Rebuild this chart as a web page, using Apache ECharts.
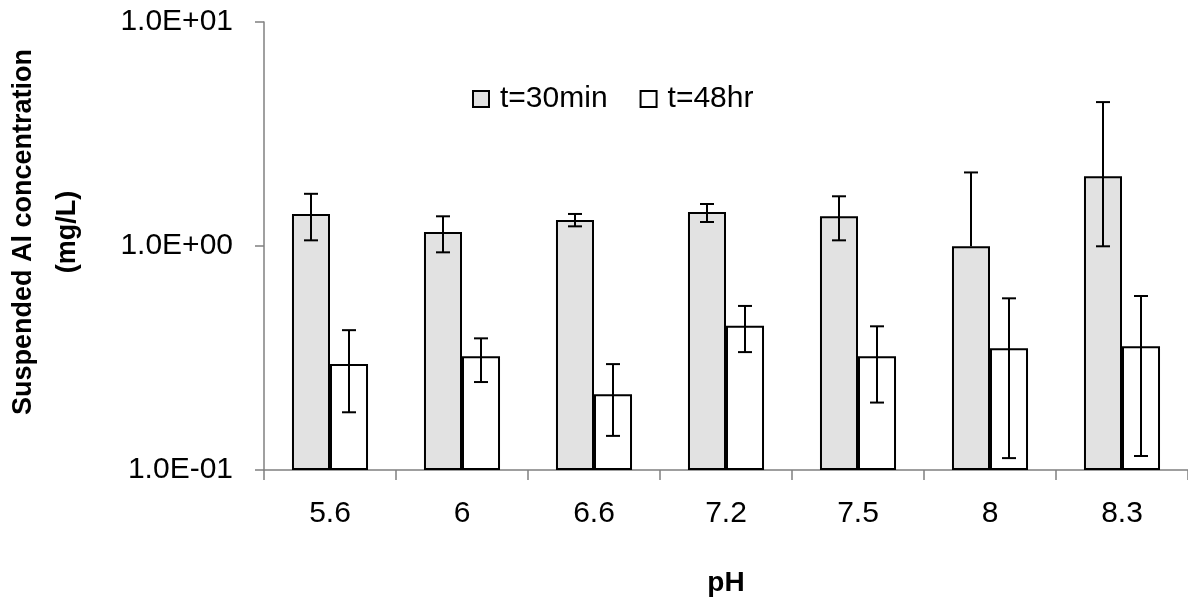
<!DOCTYPE html>
<html>
<head>
<meta charset="utf-8">
<script src="https://cdn.jsdelivr.net/npm/echarts@6/dist/echarts.min.js"></script>
<style>html,body{margin:0;padding:0;background:#fff;}#c{width:1188px;height:607px;}</style>
</head>
<body>
<div id="c"></div>
<script>
const categories = ['5.6', '6', '6.6', '7.2', '7.5', '8', '8.3'];
const yTickLabels = {0.1: '1.0E-01', 1: '1.0E+00', 10: '1.0E+01'};
const seriesNames = ['t=30min', 't=48hr'];
const mean30 = [1.39, 1.155, 1.306, 1.419, 1.357, 0.997, 2.05];
const hi30   = [1.71, 1.357, 1.39, 1.54, 1.667, 2.13, 4.39];
const lo30   = [1.06, 0.937, 1.224, 1.28, 1.06, null, 0.997];
const mean48 = [0.297, 0.322, 0.218, 0.44, 0.322, 0.350, 0.357];
const hi48   = [0.421, 0.387, 0.297, 0.54, 0.438, 0.584, 0.598];
const lo48   = [0.181, 0.247, 0.142, 0.336, 0.200, 0.113, 0.1155];

const FONT = '"Liberation Sans", Arial, sans-serif';
const BAR_FRAC = 0.288;

function errData(mean, hi, lo) {
  return mean.map((m, i) => [i, m, hi[i], lo[i] == null ? m : lo[i], lo[i] == null ? 0 : 1]);
}
function errRender(side) {
  return function (params, api) {
    const idx = api.value(0);
    const band = api.size([1, 1])[0];
    const off = side * band * BAR_FRAC / 2;
    const pHi = api.coord([idx, api.value(2)]);
    const pLo = api.coord([idx, api.value(3)]);
    const x = pHi[0] + off;
    const cap = 7;
    const st = {stroke: '#000', lineWidth: 2};
    const children = [
      {type: 'line', shape: {x1: x, y1: pHi[1], x2: x, y2: pLo[1]}, style: st},
      {type: 'line', shape: {x1: x - cap, y1: pHi[1], x2: x + cap, y2: pHi[1]}, style: st}
    ];
    if (api.value(4)) {
      children.push({type: 'line', shape: {x1: x - cap, y1: pLo[1], x2: x + cap, y2: pLo[1]}, style: st});
    }
    return {type: 'group', children: children};
  };
}

const chart = echarts.init(document.getElementById('c'), null, {renderer: 'canvas'});
chart.setOption({
  animation: false,
  backgroundColor: '#fff',
  grid: {left: 264, right: 0, top: 22, bottom: 137, containLabel: false},
  legend: {
    left: 467, top: 79,
    itemWidth: 16, itemHeight: 16, itemGap: 32,
    textStyle: {fontFamily: FONT, fontSize: 30, color: '#000', padding: [0, 0, 0, 6]},
    data: [
      {name: seriesNames[0], icon: 'rect'},
      {name: seriesNames[1], icon: 'rect'}
    ]
  },
  xAxis: {
    type: 'category',
    data: categories,
    axisLine: {lineStyle: {color: '#808080', width: 1.5}},
    axisTick: {show: true, length: 10, lineStyle: {color: '#808080', width: 1.5}},
    axisLabel: {fontFamily: FONT, fontSize: 30, color: '#000', margin: 29},
    name: 'pH',
    nameLocation: 'middle',
    nameGap: 99,
    nameTextStyle: {fontFamily: FONT, fontSize: 28, fontWeight: 'bold', color: '#000'}
  },
  yAxis: {
    type: 'log',
    logBase: 10,
    min: 0.1,
    max: 10,
    startValue: 0.1,
    splitLine: {show: false},
    axisLine: {show: true, lineStyle: {color: '#808080', width: 1.5}},
    axisTick: {show: true, length: 9, lineStyle: {color: '#808080', width: 1.5}},
    axisLabel: {
      fontFamily: FONT, fontSize: 30, color: '#000', margin: 31,
      formatter: function (v) {
        const k = Math.round(v * 10) / 10;
        return yTickLabels[k] || '';
      }
    }
  },
  graphic: [{
    type: 'text',
    x: 46, y: 232,
    rotation: Math.PI / 2,
    style: {
      text: 'Suspended Al concentration\n(mg/L)',
      font: 'bold 27px ' + FONT,
      fill: '#000',
      textAlign: 'center',
      textVerticalAlign: 'middle',
      lineHeight: 44
    }
  }],
  series: [
    {
      name: seriesNames[0], type: 'bar', data: mean30,
      barWidth: (BAR_FRAC * 100) + '%', barGap: '0%',
      itemStyle: {color: '#e2e2e2', borderColor: '#000', borderWidth: 2}
    },
    {
      name: seriesNames[1], type: 'bar', data: mean48,
      barWidth: (BAR_FRAC * 100) + '%', barGap: '0%',
      itemStyle: {color: '#ffffff', borderColor: '#000', borderWidth: 2}
    },
    {
      type: 'custom', name: 'err30', z: 10, silent: true,
      renderItem: errRender(-1), data: errData(mean30, hi30, lo30)
    },
    {
      type: 'custom', name: 'err48', z: 10, silent: true,
      renderItem: errRender(1), data: errData(mean48, hi48, lo48)
    }
  ]
});
</script>
</body>
</html>
